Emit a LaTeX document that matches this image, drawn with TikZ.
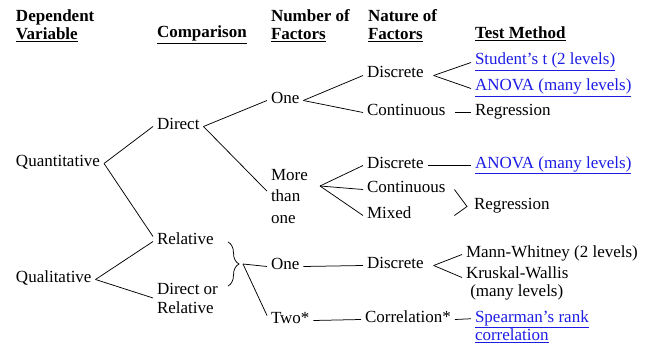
\documentclass[tikz,border=0pt]{standalone}
\usepackage{fontspec}
\setmainfont{Liberation Serif}
\usetikzlibrary{decorations.pathreplacing}
\definecolor{linkblue}{RGB}{28,28,228}

\begin{document}
\begin{tikzpicture}[x=1pt,y=-1pt,line width=0.75pt,
    lbl/.style={anchor=base west,inner sep=0pt,outer xsep=4pt,
        text height=0.7em,text depth=0.2em,font=\fontsize{17}{18}\selectfont},
    multi/.style={anchor=north west,inner sep=0pt,outer xsep=4pt,align=left,
        font=\fontsize{17}{18}\selectfont},
    head/.style={font=\fontsize{17}{17.5}\selectfont\bfseries},
    link/.style={text=linkblue}]
    \useasboundingbox (0,0) rectangle (646,345);
    % column headings
    \node[multi,head] (hdep) at (12,9.4) {Dependent\\\underline{Variable}};
    \node[lbl,head] (hcmp) at (153,38) {\underline{Comparison}};
    \node[multi,head] (hnum) at (267,9.4) {Number of\\\underline{Factors}};
    \node[multi,head] (hnat) at (364,9.4) {Nature of\\\underline{Factors}};
    \node[lbl,head] (htest) at (471,39) {\underline{Test Method}};
    % dependent variable
    \node[lbl] (quant) at (12,166) {Quantitative};
    \node[lbl] (qual) at (12,282) {Qualitative};
    % comparison
    \node[lbl] (direct) at (153,129) {Direct};
    \node[lbl] (rel) at (153,244) {Relative};
    \node[multi,font=\fontsize{17}{19}\selectfont] (dor) at (153,282.4) {Direct or\\Relative};
    % number of factors
    \node[lbl] (onea) at (267,103) {One};
    \node[multi,font=\fontsize{17}{21.5}\selectfont] (more) at (267,168.7) {More\\than\\one};
    \node[lbl] (oneb) at (267,269) {One};
    \node[lbl] (two) at (267,323) {Two*};
    % nature of factors
    \node[lbl] (disca) at (363,78) {Discrete};
    \node[lbl] (conta) at (363,115) {Continuous};
    \node[lbl] (discb) at (363,168) {Discrete};
    \node[lbl] (contb) at (363,192) {Continuous};
    \node[lbl] (mixed) at (363,218) {Mixed};
    \node[lbl] (discc) at (363,268) {Discrete};
    \node[lbl] (corr) at (361,322) {Correlation*};
    % test method
    \node[lbl,link] (stud) at (471,65) {\underline{Student's t (2 levels)}};
    \node[lbl,link] (anova) at (471,91) {\underline{ANOVA (many levels)}};
    \node[lbl] (rega) at (471,115) {Regression};
    \node[lbl,link] (anovb) at (471,168) {\underline{ANOVA (many levels)}};
    \node[lbl] (regb) at (470,209) {Regression};
    \node[lbl] (mw) at (462,257) {Mann-Whitney (2 levels)};
    \node[multi] (kw) at (462,266.4) {Kruskal-Wallis\\~(many levels)};
    \node[multi,link] (spear) at (471,310.4) {\underline{Spearman's rank}\\\underline{correlation}};
    % junctions
    \coordinate (mfork) at (320,186);
    \coordinate (rfork) at ([xshift=-3pt]regb.west);
    \coordinate (btop) at (228,242);
    \coordinate (bbot) at (228,286);
    \coordinate (btip) at (243,264);
    % branches
    \path[draw]
        (quant.east) edge (direct.west)
            edge ([yshift=5pt]rel.west)
        (qual.east) edge (rel.west)
            edge (dor.west)
        (direct.east) edge (onea.west)
            edge ([yshift=5pt]more.west)
        (onea.east) edge (disca.west)
            edge (conta.west)
        (mfork) edge (discb.west)
            edge (contb.west)
            edge (mixed.west)
        ([xshift=6pt]disca.east) edge (stud.west)
            edge (anova.west)
        ([xshift=6pt]conta.east) edge (rega.west)
        (discb.east) edge (anovb.west)
        (btip) edge (oneb.west)
            edge ([yshift=5pt]two.west)
        (oneb.east) edge (discc.west)
        (two.east) edge (corr.west)
        ([xshift=6pt]discc.east) edge (mw.west)
            edge ([yshift=6pt]kw.west)
        (corr.east) edge ([yshift=8pt]spear.west);
    \draw ([xshift=5pt]contb.east) -- (rfork) -- ([xshift=5pt]contb.east |- mixed.east);
    \draw[decorate,decoration={brace,amplitude=11pt}] (btop) -- (bbot);
\end{tikzpicture}
\end{document}
